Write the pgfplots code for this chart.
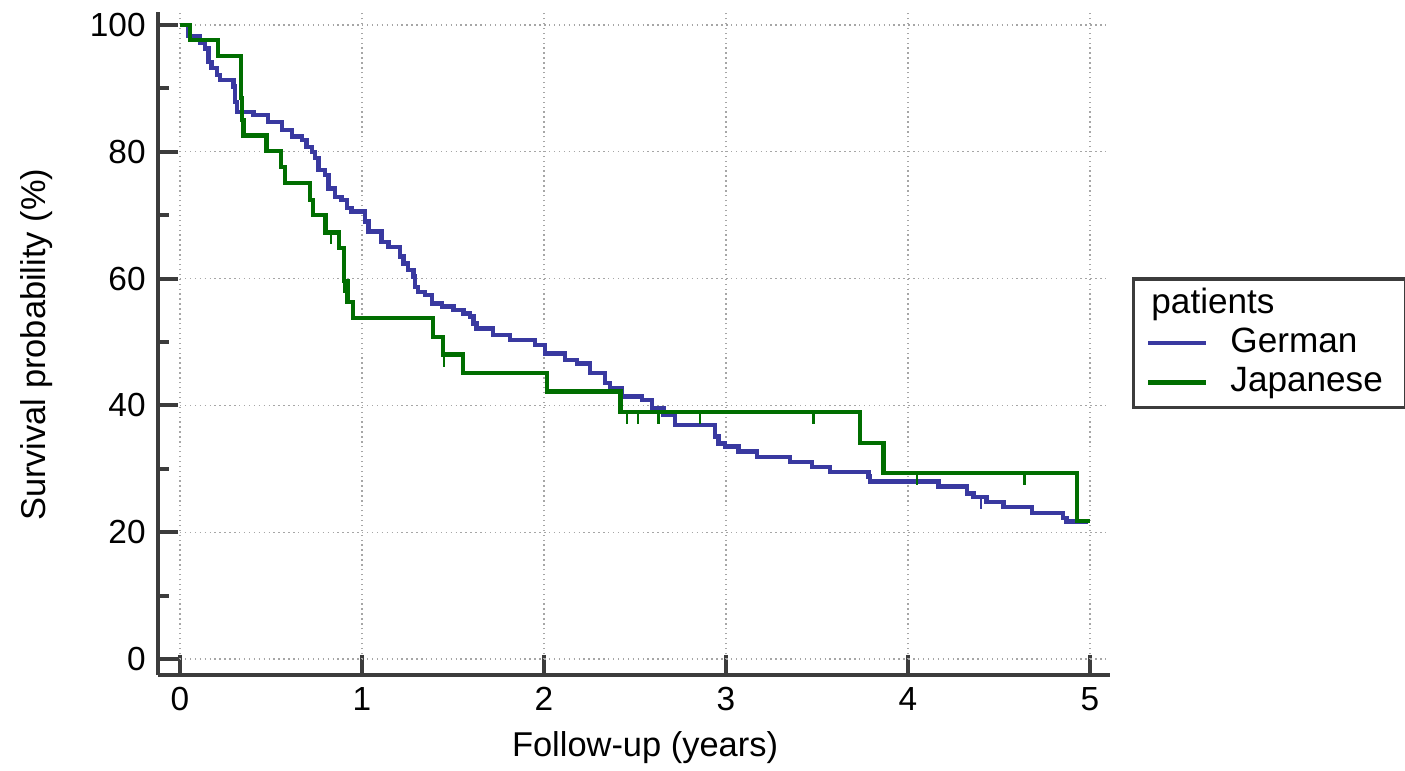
\documentclass[border=0pt]{standalone}
\usepackage{fontspec}
\setmainfont{Liberation Sans}
\usepackage{pgfplots}
\pgfplotsset{compat=1.18}

\definecolor{kmblue}{RGB}{57,57,160}
\definecolor{kmgreen}{RGB}{0,110,0}
\definecolor{axgray}{RGB}{60,60,60}

% censoring tick: short line hanging below the curve
\pgfdeclareplotmark{cens}{%
  \pgfpathmoveto{\pgfqpoint{0pt}{0pt}}%
  \pgfpathlineto{\pgfqpoint{0pt}{-3.4pt}}%
  \pgfusepathqstroke}

\begin{document}
\begin{tikzpicture}
\useasboundingbox (-15.8mm,-9.6mm) rectangle (124.7mm,67.5mm);
\begin{axis}[
  at={(0,0)}, anchor=south west,
  scale only axis, width=95.2mm, height=66.3mm,
  xmin=-0.1209, xmax=5.11, ymin=-2.52, ymax=102.05,
  axis x line*=bottom, axis y line*=left,
  axis line style={line width=1.1pt, draw=axgray, -},
  xtick={0,1,2,3,4,5},
  ytick={0,20,40,60,80,100},
  minor ytick={10,30,50,70,90},
  tick align=inside,
  major tick length=2mm, minor tick length=1.1mm,
  tick style={line width=1.1pt, draw=axgray},
  /pgf/number format/assume math mode=true,
  tick label style={font=\fontsize{9.5}{11}\selectfont},
  xlabel={Follow-up (years)},
  ylabel={Survival probability (\%)},
  label style={font=\fontsize{9.8}{11}\selectfont},
  xlabel style={at={(axis description cs:0.5116,-0.110)}, anchor=center},
  ylabel style={at={(axis description cs:-0.127,0.498)}, anchor=center},
  legend style={at={(axis description cs:1.023,0.600)}, anchor=north west,
    draw=axgray, line width=1pt, inner xsep=3.5pt, inner ysep=1.5pt,
    font=\fontsize{10}{11}\selectfont,
    nodes={inner sep=0.6pt, text height=7.6pt, text depth=2.4pt}},
  legend cell align=left,
  legend image code/.code={\draw[#1] (0cm,0cm) -- (0.58cm,0cm); \path (0.78cm,0cm);},
]
% grid
\pgfplotsinvokeforeach{0,20,40,60,80,100}{
  \draw[gray!70, densely dotted, line width=0.4pt] (axis cs:0,#1) -- (axis cs:5.11,#1);}
\pgfplotsinvokeforeach{0,1,2,3,4,5}{
  \draw[gray!70, densely dotted, line width=0.4pt] (axis cs:#1,0) -- (axis cs:#1,102.05);}

\addlegendimage{empty legend}
\addlegendentry{\hspace*{-7.9mm}patients}

\addplot[const plot, kmblue, line width=1.25pt, mark=none] coordinates {
(0,100) (0.044,98.3) (0.11,97.2) (0.137,96.3) (0.156,94.2) (0.174,93.2)
(0.202,92.1) (0.220,91.3) (0.293,90.3) (0.302,87.9) (0.312,86.3) (0.403,85.8)
(0.485,84.7) (0.559,83.4) (0.614,82.4) (0.669,81.9) (0.696,80.8) (0.724,80.0)
(0.742,79.0) (0.760,77.1) (0.797,76.3) (0.815,74.2) (0.852,72.9) (0.888,72.4)
(0.916,71.1) (0.943,70.6) (1.016,69.0) (1.035,67.4) (1.108,65.8) (1.145,65.0)
(1.209,63.5) (1.227,62.4) (1.254,61.4) (1.282,60.3) (1.291,58.7) (1.309,57.9)
(1.346,57.4) (1.383,56.1) (1.438,55.6) (1.502,55.0) (1.557,54.5) (1.593,54.0)
(1.612,52.9) (1.630,52.1) (1.721,51.1) (1.813,50.3) (1.951,49.5) (2.005,48.2)
(2.115,47.2) (2.180,46.6) (2.253,45.1) (2.335,43.5) (2.363,42.7) (2.427,41.4)
(2.537,40.9) (2.592,39.5) (2.656,38.5) (2.720,36.9) (2.940,35.1) (2.958,34.0)
(2.995,33.5) (3.068,32.7) (3.169,31.9) (3.352,31.1) (3.471,30.3) (3.571,29.5)
(3.782,28.8) (3.791,28.0) (4.167,27.2) (4.323,26.1) (4.359,25.6) (4.432,24.8)
(4.524,24.0) (4.680,23.0) (4.853,22.2) (4.872,21.7) (4.99,21.7)
};
\addlegendentry{German}

\addplot[const plot, kmgreen, line width=1.25pt, mark=none] coordinates {
(0,100) (0.055,97.6) (0.21,95.1) (0.334,88.5) (0.34,85.0) (0.348,82.6)
(0.476,80.1) (0.555,77.6) (0.577,75.1) (0.714,72.4) (0.73,70.0) (0.80,67.3)
(0.875,64.8) (0.90,59.6) (0.92,56.3) (0.95,53.8) (1.39,50.8) (1.445,48.0)
(1.555,45.1) (2.015,42.2) (2.42,39.0) (3.736,34.1) (3.865,29.3) (4.93,21.8)
(5.0,21.8)
};
\addlegendentry{Japanese\hspace*{0.8mm}}

% censored observations
\addplot[forget plot, only marks, mark=cens, kmblue, mark options={line width=0.7pt}]
  coordinates {(4.40,25.6)};
\addplot[forget plot, only marks, mark=cens, kmgreen, mark options={line width=0.7pt}]
  coordinates {(0.83,67.3) (0.90,59.6) (1.452,48.0) (2.456,39.0) (2.516,39.0)
  (2.63,39.0) (2.857,39.0) (3.48,39.0) (4.05,29.3) (4.64,29.3)};
\end{axis}
\end{tikzpicture}
\end{document}
